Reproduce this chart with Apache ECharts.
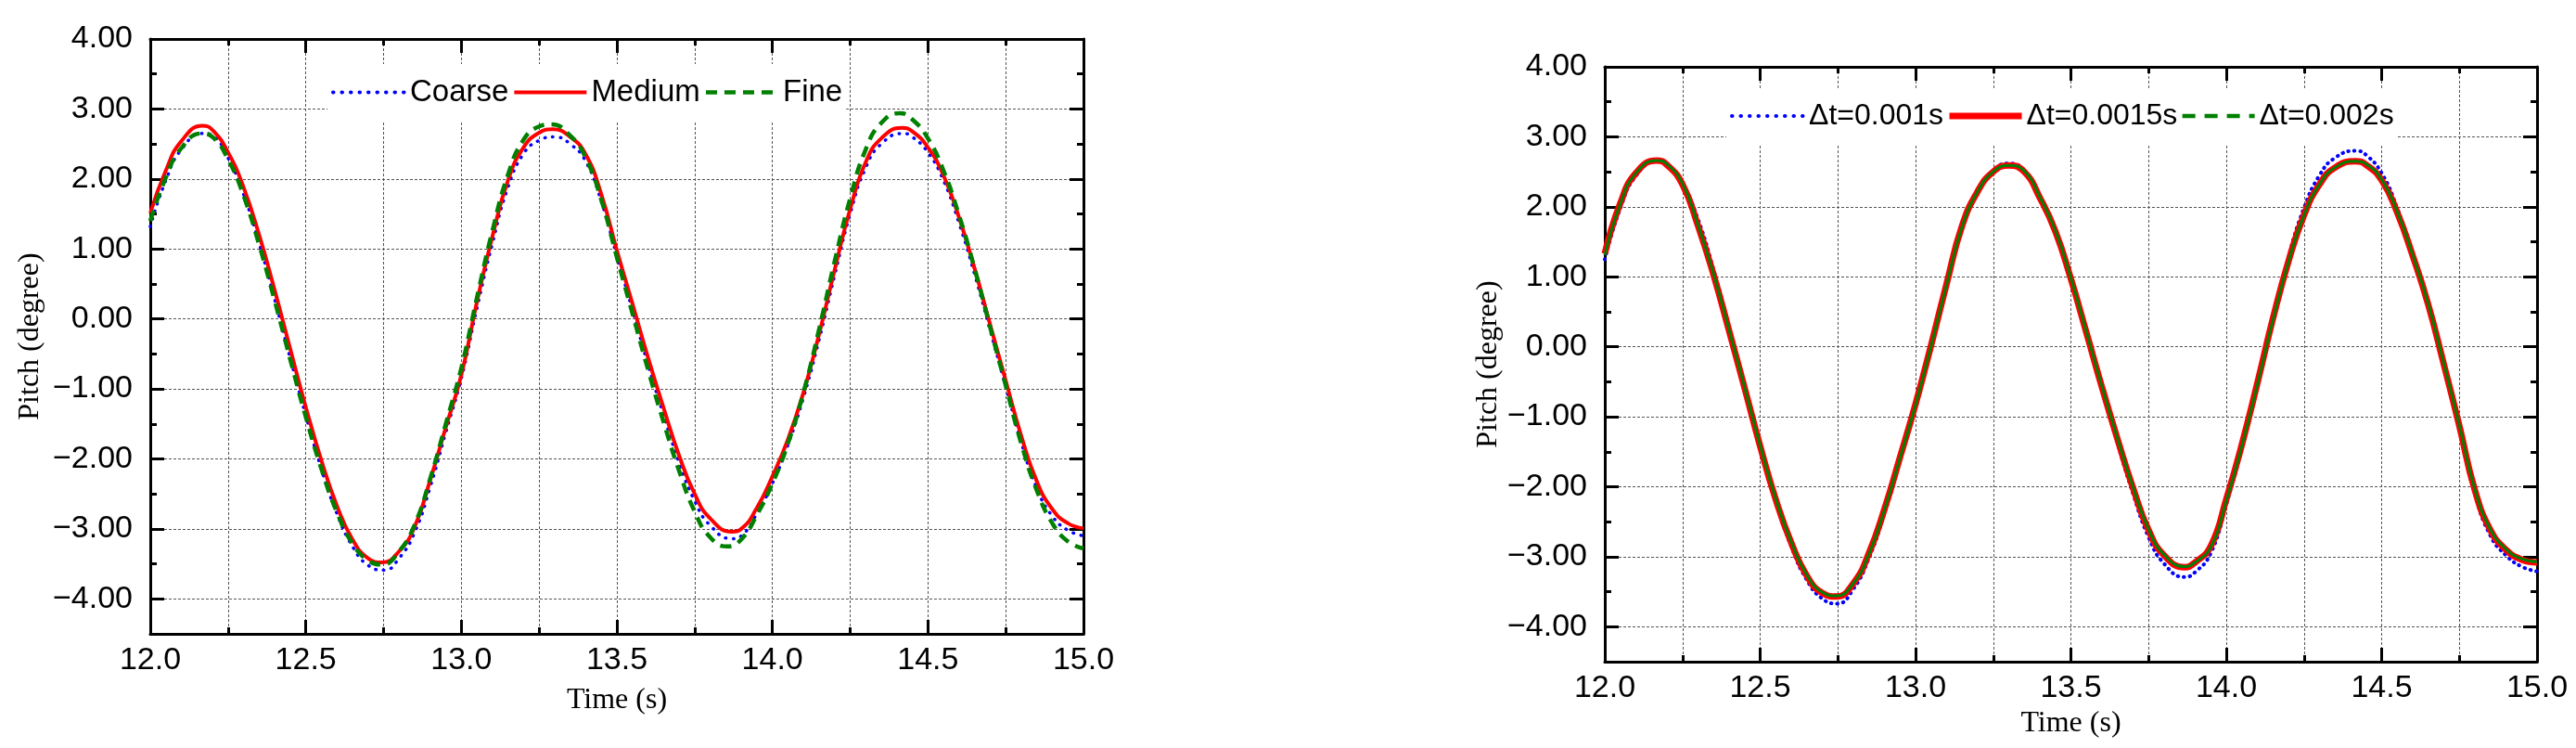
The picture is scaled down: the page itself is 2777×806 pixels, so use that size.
<!DOCTYPE html>
<html>
<head>
<meta charset="utf-8">
<title>Pitch vs Time</title>
<script src="https://cdn.jsdelivr.net/npm/echarts@6/dist/echarts.min.js"></script>
<style>
  html, body { margin: 0; padding: 0; background: #fff; }
  #main { width: 2777px; height: 806px; }
</style>
</head>
<body>
<div id="main"></div>
<script>
// sample times (s)
var times = [
  12.00, 12.05, 12.10, 12.15, 12.20, 12.25, 12.30, 12.35, 12.40, 12.45,
  12.50, 12.55, 12.60, 12.65, 12.70, 12.75, 12.80, 12.85, 12.90, 12.95,
  13.00, 13.05, 13.10, 13.15, 13.20, 13.25, 13.30, 13.35, 13.40, 13.45,
  13.50, 13.55, 13.60, 13.65, 13.70, 13.75, 13.80, 13.85, 13.90, 13.95,
  14.00, 14.05, 14.10, 14.15, 14.20, 14.25, 14.30, 14.35, 14.40, 14.45,
  14.50, 14.55, 14.60, 14.65, 14.70, 14.75, 14.80, 14.85, 14.90, 14.95,
  15.00
];

// left chart: mesh study
var coarse = [
  1.32, 1.98, 2.42, 2.63, 2.62, 2.30, 1.78, 1.08, 0.28, -0.56,
  -1.38, -2.14, -2.78, -3.25, -3.52, -3.58, -3.42, -3.05, -2.40, -1.62,
  -0.85, 0.15, 1.08, 1.88, 2.36, 2.55, 2.60, 2.50, 2.25, 1.68,
  0.90, 0.13, -0.65, -1.37, -2.05, -2.60, -2.95, -3.12, -3.10, -2.78,
  -2.35, -1.80, -1.12, -0.30, 0.62, 1.50, 2.16, 2.50, 2.64, 2.60,
  2.38, 1.98, 1.37, 0.64, -0.16, -0.96, -1.76, -2.42, -2.82, -3.02,
  -3.10
];
var medium = [
  1.51, 2.12, 2.54, 2.74, 2.70, 2.38, 1.88, 1.20, 0.41, -0.43,
  -1.26, -2.02, -2.67, -3.15, -3.42, -3.48, -3.32, -2.97, -2.30, -1.55,
  -0.80, 0.24, 1.18, 1.98, 2.45, 2.66, 2.71, 2.60, 2.35, 1.78,
  0.98, 0.22, -0.55, -1.27, -1.95, -2.50, -2.85, -3.02, -3.00, -2.70,
  -2.25, -1.72, -1.05, -0.22, 0.70, 1.57, 2.24, 2.58, 2.72, 2.68,
  2.45, 2.05, 1.45, 0.72, -0.08, -0.88, -1.67, -2.32, -2.72, -2.92,
  -2.99
];
var fine = [
  1.40, 2.02, 2.44, 2.63, 2.60, 2.28, 1.76, 1.06, 0.26, -0.58,
  -1.40, -2.14, -2.76, -3.21, -3.45, -3.50, -3.32, -2.94, -2.28, -1.50,
  -0.70, 0.30, 1.26, 2.06, 2.56, 2.75, 2.77, 2.62, 2.30, 1.70,
  0.88, 0.08, -0.72, -1.47, -2.17, -2.75, -3.12, -3.24, -3.15, -2.80,
  -2.35, -1.78, -1.05, -0.15, 0.82, 1.72, 2.42, 2.80, 2.93, 2.85,
  2.58, 2.12, 1.48, 0.72, -0.12, -0.95, -1.78, -2.45, -2.92, -3.18,
  -3.28
];

// right chart: time step study
var dt001 = [
  1.25, 1.98, 2.44, 2.64, 2.61, 2.32, 1.82, 1.10, 0.28, -0.57,
  -1.42, -2.20, -2.85, -3.33, -3.60, -3.66, -3.46, -3.02, -2.38, -1.62,
  -0.82, 0.00, 0.88, 1.72, 2.22, 2.52, 2.61, 2.52, 2.14, 1.64,
  0.95, 0.17, -0.62, -1.38, -2.10, -2.72, -3.10, -3.27, -3.22, -2.95,
  -2.25, -1.45, -0.55, 0.40, 1.28, 1.98, 2.45, 2.70, 2.79, 2.74,
  2.48, 1.98, 1.32, 0.58, -0.28, -1.17, -2.10, -2.70, -2.98, -3.14,
  -3.21
];
var dt0015 = [
  1.33, 2.05, 2.48, 2.65, 2.60, 2.32, 1.73, 1.03, 0.23, -0.59,
  -1.42, -2.18, -2.80, -3.27, -3.52, -3.57, -3.38, -2.95, -2.32, -1.58,
  -0.82, 0.02, 0.90, 1.73, 2.22, 2.50, 2.59, 2.50, 2.13, 1.65,
  0.97, 0.20, -0.58, -1.32, -2.02, -2.62, -2.98, -3.13, -3.08, -2.85,
  -2.18, -1.40, -0.52, 0.40, 1.22, 1.88, 2.32, 2.56, 2.65, 2.60,
  2.38, 1.92, 1.30, 0.60, -0.25, -1.13, -2.05, -2.62, -2.90, -3.04,
  -3.08
];
var dt002 = [
  1.31, 2.04, 2.48, 2.65, 2.61, 2.33, 1.74, 1.04, 0.24, -0.58,
  -1.41, -2.17, -2.79, -3.26, -3.51, -3.56, -3.38, -2.96, -2.33, -1.59,
  -0.83, 0.01, 0.89, 1.72, 2.22, 2.50, 2.59, 2.51, 2.14, 1.66,
  0.98, 0.21, -0.57, -1.31, -2.01, -2.61, -2.97, -3.12, -3.08, -2.86,
  -2.20, -1.42, -0.54, 0.38, 1.21, 1.88, 2.32, 2.56, 2.65, 2.61,
  2.39, 1.93, 1.31, 0.61, -0.24, -1.12, -2.04, -2.61, -2.89, -3.03,
  -3.07
];

// peaks and troughs: [time, pitch]
var coarseExt = [[12.170, 2.65], [12.752, -3.59], [13.300, 2.60], [13.870, -3.14], [14.420, 2.65]];
var mediumExt = [[12.168, 2.76], [12.745, -3.48], [13.294, 2.71], [13.870, -3.04], [14.417, 2.73]];
var fineExt = [[12.165, 2.65], [12.745, -3.51], [13.288, 2.78], [13.855, -3.25], [14.410, 2.94]];
var dt001Ext = [[12.167, 2.65], [12.748, -3.67], [13.300, 2.62], [13.866, -3.29], [14.417, 2.80]];
var dt0015Ext = [[12.167, 2.66], [12.745, -3.57], [13.299, 2.59], [13.866, -3.15], [14.417, 2.65]];
var dt002Ext = [[12.167, 2.66], [12.745, -3.56], [13.299, 2.59], [13.866, -3.14], [14.417, 2.65]];

var yTicks = [-4, -3, -2, -1, 0, 1, 2, 3, 4];
var yHalfTicks = [-3.5, -2.5, -1.5, -0.5, 0.5, 1.5, 2.5, 3.5];
var leftNames = ['Coarse', 'Medium', 'Fine'];
var rightNames = ['\u0394t=0.001s', '\u0394t=0.0015s', '\u0394t=0.002s'];

(function () {
  var myEcharts = echarts.init(document.getElementById('main'));

  var sans = 'Liberation Sans, Arial, sans-serif';
  var serif = 'Liberation Serif, Times New Roman, serif';
  var black = { color: '#000', width: 3 };
  // dashed grid lines
  var gridLine = { show: true, lineStyle: { color: '#555', width: 1, type: [3, 2] } };

  // regular samples + the read extrema (samples right next to an extremum are dropped)
  function build(vals, ext) {
    var pts = [];
    times.forEach(function (t, i) {
      var near = ext.some(function (e) { return Math.abs(e[0] - t) < 0.025; });
      if (!near) pts.push([t, vals[i]]);
    });
    return pts.concat(ext).sort(function (a, b) { return a[0] - b[0]; });
  }

  // bottom x axis with labels + top mirror axis
  function xAxes(g, nameGap) {
    return [
      {
        type: 'value', gridIndex: g, position: 'bottom',
        min: 12, max: 15, interval: 0.5,
        name: 'Time (s)', nameLocation: 'middle', nameGap: nameGap,
        nameTextStyle: { fontFamily: serif, fontSize: 32, color: '#000' },
        axisLine: { show: true, onZero: false, lineStyle: black },
        axisTick: { show: true, inside: true, length: 15, lineStyle: black },
        minorTick: { show: true, splitNumber: 2, length: 7, lineStyle: black },
        axisLabel: {
          margin: 12, fontFamily: sans, fontSize: 34, color: '#000',
          formatter: function (v) { return v.toFixed(1); }
        },
        splitLine: gridLine,
        minorSplitLine: gridLine
      },
      {
        type: 'value', gridIndex: g, position: 'top',
        min: 12, max: 15, interval: 0.5,
        axisLine: { show: true, onZero: false, lineStyle: black },
        axisTick: { show: true, inside: true, length: 15, lineStyle: black },
        minorTick: { show: true, splitNumber: 2, length: 7, lineStyle: black },
        axisLabel: { show: false },
        splitLine: { show: false }
      }
    ];
  }

  // left y axis (labels, long ticks), short half ticks, and the right mirror
  function yAxes(g, nameGap) {
    var base = { type: 'value', gridIndex: g, min: -4.5, max: 4, interval: 0.5 };
    return [
      Object.assign({}, base, {
        position: 'left',
        name: 'Pitch (degree)', nameLocation: 'middle', nameGap: nameGap, nameRotate: 90,
        nameTextStyle: { fontFamily: serif, fontSize: 32, color: '#000' },
        axisLine: { show: true, onZero: false, lineStyle: black },
        axisTick: { show: true, inside: true, length: 15, lineStyle: black, customValues: yTicks },
        axisLabel: {
          margin: 19, fontFamily: sans, fontSize: 34, color: '#000', customValues: yTicks,
          formatter: function (v) { return (v < 0 ? '\u2212' : '') + Math.abs(v).toFixed(2); }
        },
        splitLine: gridLine
      }),
      Object.assign({}, base, {
        position: 'left', offset: 0,
        axisLine: { show: false, onZero: false },
        axisTick: { show: true, inside: true, length: 7, lineStyle: black, customValues: yHalfTicks },
        axisLabel: { show: false },
        splitLine: { show: false }
      }),
      Object.assign({}, base, {
        position: 'right', offset: 0,
        axisLine: { show: true, onZero: false, lineStyle: black },
        axisTick: { show: true, inside: true, length: 15, lineStyle: black, customValues: yTicks },
        axisLabel: { show: false },
        splitLine: { show: false }
      }),
      Object.assign({}, base, {
        position: 'right', offset: 0,
        axisLine: { show: false, onZero: false },
        axisTick: { show: true, inside: true, length: 7, lineStyle: black, customValues: yHalfTicks },
        axisLabel: { show: false },
        splitLine: { show: false }
      })
    ];
  }

  function legend(left, top, names, styles, fontSize, gap) {
    return {
      left: left, top: top,
      padding: [14, 4],
      backgroundColor: '#fff',
      selectedMode: false,
      itemGap: gap,
      itemWidth: 78,
      itemHeight: 14,
      textStyle: { fontFamily: sans, fontSize: fontSize, color: '#000' },
      data: names.map(function (n, i) {
        // opacity 0 hides the little marker echarts puts in the middle of a line icon
        return { name: n, lineStyle: styles[i], itemStyle: { opacity: 0 } };
      })
    };
  }

  var blueDots = { color: '#0000ff', width: 4, type: [0.5, 9], cap: 'round' };
  var redLine = { color: '#ff0000', width: 4 };
  var greenDash = { color: '#008000', width: 4.5, type: [12, 8] };

  function line(name, xi, yi, data, style) {
    return {
      name: name, type: 'line', xAxisIndex: xi, yAxisIndex: yi,
      data: data, smooth: 0.5, symbol: 'none',
      itemStyle: { color: style.color },
      lineStyle: style
    };
  }

  var option = {
    animation: false,
    backgroundColor: '#fff',
    grid: [
      { left: 162, top: 42, width: 1006, height: 641 },
      { left: 1730, top: 72, width: 1005, height: 641 }
    ],
    legend: [
      legend(353, 69, leftNames, [blueDots, redLine, greenDash], 33, 4),
      legend(1861, 95, rightNames, [
        blueDots,
        { color: '#ff0000', width: 7 },
        { color: '#008000', width: 4.5, type: [14, 10] }
      ], 32, 3)
    ],
    xAxis: xAxes(0, 56).concat(xAxes(1, 50)),
    yAxis: yAxes(0, 113).concat(yAxes(1, 107)),
    series: [
      line(leftNames[0], 0, 0, build(coarse, coarseExt), { color: '#0000ff', width: 3.5, type: [0.5, 8], cap: 'round' }),
      line(leftNames[1], 0, 0, build(medium, mediumExt), redLine),
      line(leftNames[2], 0, 0, build(fine, fineExt), greenDash),
      line(rightNames[0], 2, 4, build(dt001, dt001Ext), { color: '#0000ff', width: 4, type: [0.5, 6], cap: 'round' }),
      line(rightNames[1], 2, 4, build(dt0015, dt0015Ext), { color: '#ff0000', width: 7 }),
      line(rightNames[2], 2, 4, build(dt002, dt002Ext), { color: '#008000', width: 3 })
    ]
  };

  myEcharts.setOption(option);
  window.addEventListener('resize', function () {
    myEcharts.resize();
  });
})();
</script>
</body>
</html>
